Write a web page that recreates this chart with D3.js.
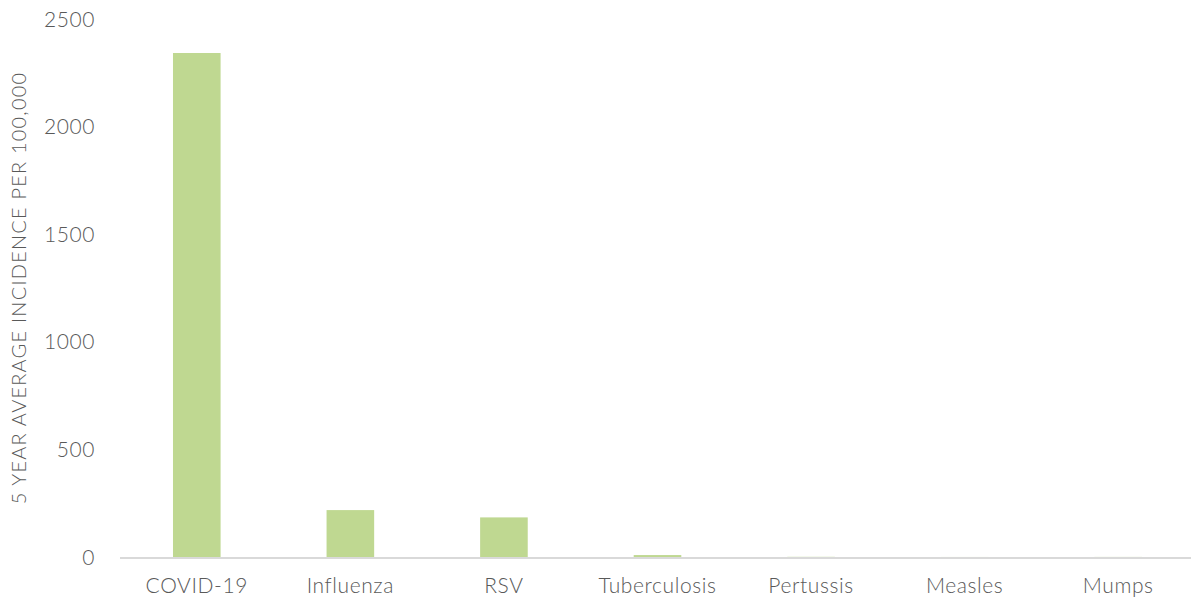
<!DOCTYPE html>
<html>
<head>
<meta charset="utf-8">
<script src="https://cdn.jsdelivr.net/npm/d3@7"></script>
<style>
  body { margin: 0; background: #fff; }
  text { font-family: Lato, "Open Sans", sans-serif; font-weight: 300; fill: #595959; }
</style>
</head>
<body>
<svg id="chart" width="1191" height="604"></svg>
<script>
var diseases = ['COVID-19', 'Influenza', 'RSV', 'Tuberculosis', 'Pertussis', 'Measles', 'Mumps'];
var incidence = [2342, 218, 184, 9, 0.8, 0.2, 0.4];
var yTicks = [0, 500, 1000, 1500, 2000, 2500];
var yTitle = '5 YEAR AVERAGE INCIDENCE PER 100,000';

var svg = d3.select('#chart');
var plotLeft = 120, plotRight = 1195, plotTop = 19, plotBottom = 557;

var x = d3.scaleBand()
  .domain(diseases)
  .range([plotLeft, plotRight])
  .paddingInner(0.69)
  .paddingOuter(0.345);

var y = d3.scaleLinear()
  .domain([0, 2500])
  .range([plotBottom, plotTop]);

// y tick labels, no axis line
svg.append('g')
  .selectAll('text')
  .data(yTicks)
  .enter()
  .append('text')
  .attr('x', 95)
  .attr('y', function(d) { return y(d); })
  .attr('dy', '0.36em')
  .attr('text-anchor', 'end')
  .style('font-size', '21px')
  .style('letter-spacing', '0.6px')
  .text(function(d) { return d; });

// bars
svg.append('g')
  .selectAll('rect')
  .data(diseases)
  .enter()
  .append('rect')
  .attr('x', function(d) { return x(d); })
  .attr('width', x.bandwidth())
  .attr('y', function(d, i) { return y(incidence[i]); })
  .attr('height', function(d, i) { return plotBottom - y(incidence[i]); })
  .attr('fill', '#bfd891');

// baseline
svg.append('line')
  .attr('x1', plotLeft)
  .attr('x2', plotRight)
  .attr('y1', plotBottom + 1)
  .attr('y2', plotBottom + 1)
  .attr('stroke', '#d9d9d9')
  .attr('stroke-width', 2);

// category labels
svg.append('g')
  .selectAll('text')
  .data(diseases)
  .enter()
  .append('text')
  .attr('x', function(d) { return x(d) + x.bandwidth() / 2; })
  .attr('y', 593)
  .attr('text-anchor', 'middle')
  .style('font-size', '21px')
  .style('letter-spacing', '0.6px')
  .text(function(d) { return d; });

// y title
svg.append('text')
  .attr('transform', 'translate(26,' + 288 + ') rotate(-90)')
  .attr('text-anchor', 'middle')
  .style('font-size', '20px')
  .style('letter-spacing', '1.2px')
  .text(yTitle);
</script>
</body>
</html>
